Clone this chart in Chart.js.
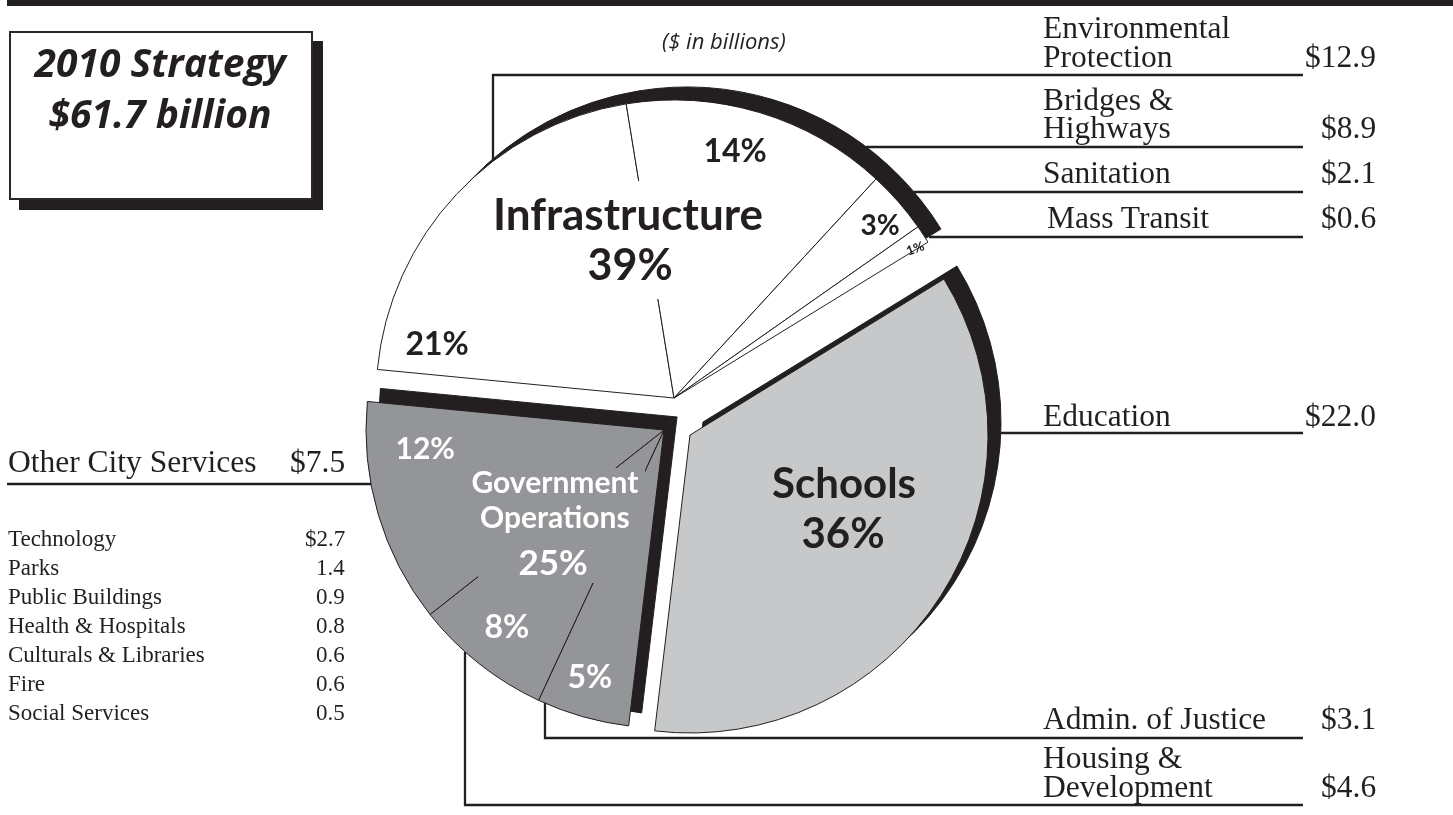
<!DOCTYPE html>
<html>
<head>
<meta charset="utf-8">
<title>2010 Strategy – $61.7 billion</title>
<script src="https://cdn.jsdelivr.net/npm/chart.js@4.4.1/dist/chart.umd.min.js"></script>
<style>
  html, body { margin: 0; padding: 0; background: #fff; }
  #stage { position: relative; width: 1453px; height: 815px; overflow: hidden; }
  #stage canvas { position: absolute; left: 0; top: 0; }
  #shadow-pie { transform: translate(13px, -13px); }

  .top-bar { position: absolute; left: 7px; top: 0; width: 1446px; height: 6px; background: #231f20; }
  .title-box {
    position: absolute; left: 9px; top: 31px; width: 304px; height: 169px;
    box-sizing: border-box; border: 2px solid #2b2829; background: #fff;
    box-shadow: 10px 10px 0 #231f20;
  }
  .mask { position: absolute; }

  .txt { position: absolute; white-space: nowrap; color: #231f20; line-height: normal; }
  .probe { display: inline-block; width: 0; height: 0; vertical-align: baseline; }
  .title { font-family: 'Open Sans', sans-serif; font-style: italic; font-weight: 700; font-size: 39px; }
  .unit { font-family: 'Open Sans', sans-serif; font-style: italic; font-size: 22px; }
  .callout { font-family: 'Liberation Serif', serif; font-size: 31.5px; }
  .sub { font-family: 'Liberation Serif', serif; font-size: 23px; }
  .pct { font-family: Lato, sans-serif; font-weight: 700; }
  .light { color: #fff; }
</style>
</head>
<body>
<div id="stage">
  <canvas id="shadow-pie" width="1453" height="815"></canvas>
  <canvas id="pie" width="1453" height="815"></canvas>
  <div class="top-bar"></div>
  <div class="title-box"></div>
</div>
<script>
// ─── Data ($ in billions) ─────────────────────────────
const categories = [
  'Environmental\nProtection', 'Bridges &\nHighways', 'Sanitation', 'Mass Transit',
  'Education', 'Admin. of Justice', 'Housing &\nDevelopment', 'Other City Services',
];
const billions   = [12.9, 8.9, 2.1, 0.6, 22.0, 3.1, 4.6, 7.5];
const groupOf    = [
  'Infrastructure', 'Infrastructure', 'Infrastructure', 'Infrastructure',
  'Schools', 'Government Operations', 'Government Operations', 'Government Operations',
];
const slicePct   = ['21%', '14%', '3%', '1%', '', '5%', '8%', '12%'];

const groupTitles = ['Infrastructure', 'Schools', 'Government\nOperations'];
const groupPct    = ['39%', '36%', '25%'];

const otherServices = ['Technology', 'Parks', 'Public Buildings', 'Health & Hospitals',
                       'Culturals & Libraries', 'Fire', 'Social Services'];
const otherBillions = [2.7, 1.4, 0.9, 0.8, 0.6, 0.6, 0.5];

// ─── Look ─────────────────────────────────────────────
const ink = '#231f20';
const groupFill = {
  'Infrastructure': '#ffffff',
  'Schools': '#c7c8ca',
  'Government Operations': '#939598',
};
// each group is pulled away from the common centre by its own amount
const groupShift = {
  'Infrastructure': { dx: -2, dy: -23 },
  'Schools': { dx: 14, dy: 14 },
  'Government Operations': { dx: -12, dy: 9 },
};
const pie = { cx: 676, cy: 421, r: 298, rotation: -84.5 };
const W = 1453, H = 815;

// ─── Annotation layout ────────────────────────────────
const calloutX     = [1043, 1043, 1043, 1047, 1043, 1043, 1043, 8];
const calloutBase  = [[38, 67], [110, 138], [183], [228], [426], [729], [768, 797], [472]];
const calloutValX  = [1376, 1376, 1376, 1376, 1376, 1376, 1376, 345];
const leaderPaths  = [
  [[493, 161], [493, 75], [1303, 75]],
  [[866, 147], [1303, 147]],
  [[914, 192], [1303, 192]],
  [[929, 237], [1303, 237]],
  [[1001, 433], [1303, 433]],
  [[545, 703], [545, 738], [1303, 738]],
  [[465, 652], [465, 805], [1303, 805]],
  [[7, 484], [371, 484]],
];
// [centre x, baseline, font size] for each slice percentage
const slicePctPos = [
  [437, 355, 32], [735, 162, 32], [880, 235, 28], [915, 253, 13],
  null, [590, 688, 32], [507, 638, 32], [425, 459, 30],
];
// group captions: title lines, then the percentage
const groupTitlePos = [
  { x: 628, base: [230], pct: [630, 280], size: 44, pctSize: 43, cls: '' },
  { x: 844, base: [498], pct: [843, 548], size: 42, pctSize: 42, cls: '' },
  { x: 555, base: [493, 528], pct: [553, 575], size: 30, pctSize: 35, cls: 'light' },
];
// blocks behind the group captions that interrupt the slice dividers
const captionMasks = [
  { left: 494, top: 181, width: 268, height: 118, fill: groupFill['Infrastructure'] },
  { left: 478, top: 468, width: 167, height: 115, fill: groupFill['Government Operations'] },
];

// ─── Plugins ──────────────────────────────────────────
const explode = {
  id: 'explode',
  beforeDatasetsDraw(chart) {
    const a = chart.chartArea;
    const cx = (a.left + a.right) / 2;
    const cy = (a.top + a.bottom) / 2;
    chart.getDatasetMeta(0).data.forEach((arc, i) => {
      const s = groupShift[groupOf[i]];
      arc.x = cx + s.dx;
      arc.y = cy + s.dy;
    });
  },
};

const leaders = {
  id: 'leaders',
  afterDatasetsDraw(chart) {
    const ctx = chart.ctx;
    ctx.save();
    ctx.strokeStyle = ink;
    ctx.lineWidth = 2.3;
    ctx.lineJoin = 'miter';
    leaderPaths.forEach(path => {
      ctx.beginPath();
      path.forEach(([x, y], k) => (k ? ctx.lineTo(x, y) : ctx.moveTo(x, y)));
      ctx.stroke();
    });
    ctx.restore();
  },
};

// ─── Charts ───────────────────────────────────────────
function makePie(canvasId, fills, borders, plugins) {
  return new Chart(document.getElementById(canvasId), {
    type: 'pie',
    data: {
      labels: categories.map(c => c.replace('\n', ' ')),
      datasets: [{
        data: billions,
        backgroundColor: fills,
        borderColor: borders,
        borderWidth: 1,
        borderJoinStyle: 'miter',
      }],
    },
    options: {
      responsive: false,
      devicePixelRatio: 1,
      animation: false,
      events: [],
      rotation: pie.rotation,
      layout: {
        padding: {
          left: pie.cx - pie.r - 0.5,
          right: W - pie.cx - pie.r - 0.5,
          top: pie.cy - pie.r - 0.5,
          bottom: H - pie.cy - pie.r - 0.5,
        },
      },
      plugins: { legend: { display: false }, tooltip: { enabled: false } },
    },
    plugins,
  });
}

// hard drop shadow: the same pie in solid ink, sitting behind and up-right
makePie('shadow-pie', billions.map(() => ink), ink, [explode]);
makePie('pie', groupOf.map(g => groupFill[g]), ink, [explode, leaders]);

// ─── Text ─────────────────────────────────────────────
const stage = document.getElementById('stage');

function put(text, x, base, cls, align = 'left', size) {
  const el = document.createElement('div');
  el.className = 'txt ' + cls;
  if (size) el.style.fontSize = size + 'px';
  el.textContent = text;
  const probe = document.createElement('i');
  probe.className = 'probe';
  el.appendChild(probe);
  stage.appendChild(el);
  const w = el.offsetWidth;
  const left = align === 'left' ? x : align === 'right' ? x - w : x - w / 2;
  el.style.left = left + 'px';
  el.style.top = (base - probe.offsetTop) + 'px';
  return el;
}

const money = v => '$' + v.toFixed(1);

put('2010 Strategy', 160, 77, 'title', 'center');
put('$61.7 billion', 160, 128, 'title', 'center');
put('($ in billions)', 724, 49, 'unit', 'center');

captionMasks.forEach(m => {
  const d = document.createElement('div');
  d.className = 'mask';
  Object.assign(d.style, {
    left: m.left + 'px', top: m.top + 'px',
    width: m.width + 'px', height: m.height + 'px', background: m.fill,
  });
  stage.appendChild(d);
});

categories.forEach((name, i) => {
  const lines = name.split('\n');
  const bases = calloutBase[i];
  lines.forEach((line, k) => put(line, calloutX[i], bases[k], 'callout'));
  put(money(billions[i]), calloutValX[i], bases[bases.length - 1], 'callout', 'right');
});

otherServices.forEach((name, i) => {
  const base = 546 + i * 29;
  put(name, 8, base, 'sub');
  put(i === 0 ? money(otherBillions[i]) : otherBillions[i].toFixed(1), 345, base, 'sub', 'right');
});

slicePct.forEach((pct, i) => {
  const pos = slicePctPos[i];
  if (!pct || !pos) return;
  const cls = 'pct' + (groupOf[i] === 'Government Operations' ? ' light' : '');
  const el = put(pct, pos[0], pos[1], cls, 'center', pos[2]);
  if (pos[2] < 16) el.style.transform = 'rotate(-20deg)';
});

groupTitles.forEach((title, g) => {
  const p = groupTitlePos[g];
  title.split('\n').forEach((line, k) => put(line, p.x, p.base[k], 'pct ' + p.cls, 'center', p.size));
  put(groupPct[g], p.pct[0], p.pct[1], 'pct ' + p.cls, 'center', p.pctSize);
});
</script>
</body>
</html>
